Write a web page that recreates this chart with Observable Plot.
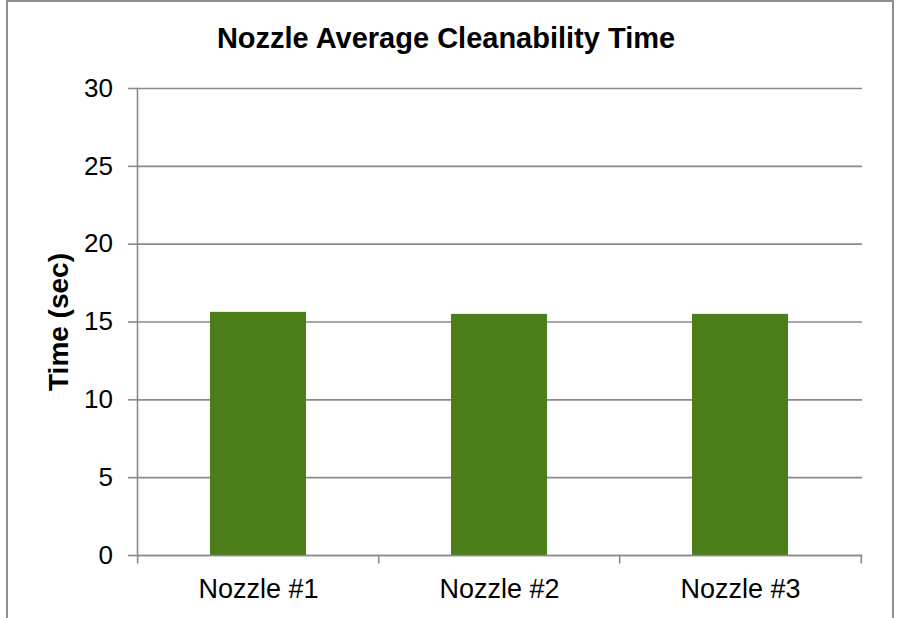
<!DOCTYPE html>
<html>
<head>
<meta charset="utf-8">
<script src="https://cdn.jsdelivr.net/npm/d3@7"></script>
<script src="https://cdn.jsdelivr.net/npm/@observablehq/plot@0.6"></script>
<style>
  html, body { margin: 0; padding: 0; background: #fff; }
  #wrap { position: relative; width: 898px; height: 618px; overflow: hidden; }
  #border { position: absolute; left: 6px; top: 0px; width: 884px; height: 700px;
            border: 2px solid #8e8e8e; pointer-events: none; }
  svg { font-family: "Liberation Sans", Arial, sans-serif; }
</style>
</head>
<body>
<div id="wrap"><div id="border"></div></div>
<script>
const title = "Nozzle Average Cleanability Time";
const yLabel = "Time (sec)";
const categories = ["Nozzle #1", "Nozzle #2", "Nozzle #3"];
const values = [15.62, 15.49, 15.49];
const yTicks = [0, 5, 10, 15, 20, 25, 30];

const data = categories.map((c, i) => ({category: c, value: values[i]}));

const W = 898, H = 618, mL = 137, mR = 36, mT = 88, mB = 63;
const step = (W - mL - mR) / categories.length;
const gray = "#8a8a8a";

const chart = Plot.plot({
  width: W,
  height: H,
  marginLeft: mL,
  marginRight: mR,
  marginTop: mT,
  marginBottom: mB,
  style: {fontFamily: '"Liberation Sans", Arial, sans-serif', color: "#000", background: "transparent"},
  x: {domain: categories, paddingInner: 0.6, paddingOuter: 0.3, label: null},
  y: {domain: [0, 30], label: null},
  marks: [
    Plot.gridY(yTicks, {stroke: gray, strokeOpacity: 1, strokeWidth: 1.6}),
    Plot.barY(data, {x: "category", y: "value", fill: "#4b7e19"}),
    Plot.frame({anchor: "left", stroke: gray, strokeWidth: 1.6}),
    Plot.ruleY([0], {stroke: gray, strokeWidth: 1.6}),
    Plot.ruleX(categories, {x: d => d, dx: -step / 2, y1: 0, y2: -0.55, stroke: gray, strokeWidth: 1.6}),
    Plot.ruleX(categories.slice(-1), {x: d => d, dx: step / 2, y1: 0, y2: -0.55, stroke: gray, strokeWidth: 1.6}),
    Plot.axisY(yTicks, {tickSize: 9, tickPadding: 15.5, fontSize: 26, stroke: gray, strokeWidth: 1.6, fill: "#000", label: null}),
    Plot.axisX({tickSize: 0, tickPadding: 23, fontSize: 27, fill: "#000", label: null}),
    Plot.text([yLabel], {frameAnchor: "left", textAnchor: "middle", rotate: -90, dx: -78, fontSize: 28, fontWeight: "bold", fill: "#000", lineAnchor: "middle"}),
    Plot.text([title], {frameAnchor: "top", dx: -54, dy: -50, fontSize: 29, fontWeight: "bold", fill: "#000", lineAnchor: "middle"})
  ]
});
document.getElementById("wrap").prepend(chart);
</script>
</body>
</html>
